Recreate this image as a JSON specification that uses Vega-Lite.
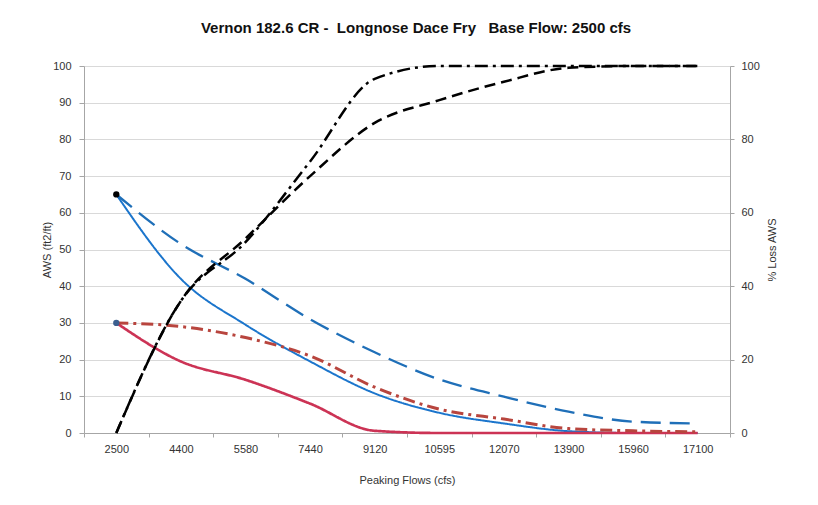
{
  "$schema": "https://vega.github.io/schema/vega-lite/v6.json",
  "width": 646,
  "height": 367,
  "autosize": {"type": "none"},
  "padding": {"left": 84, "top": 66, "right": 88, "bottom": 72},
  "background": "white",
  "title": {
    "text": "Vernon 182.6 CR -\u00a0 Longnose Dace Fry\u00a0\u00a0 Base Flow: 2500 cfs",
    "font": "Liberation Sans",
    "fontSize": 15,
    "fontWeight": "bold",
    "color": "#111111",
    "offset": 24,
    "dx": 9
  },
  "config": {
    "view": {"stroke": null},
    "font": "Liberation Sans",
    "axis": {
      "labelFont": "Liberation Sans",
      "titleFont": "Liberation Sans",
      "labelFontSize": 11,
      "titleFontSize": 11,
      "titleFontWeight": "normal",
      "labelColor": "#333333",
      "titleColor": "#333333",
      "domainColor": "#a6a6a6",
      "tickColor": "#a6a6a6",
      "gridColor": "#d9d9d9"
    }
  },
  "datasets": {
    "aws": [
      {"flow": "2500", "series": "A", "value": 65},
      {"flow": "4400", "series": "A", "value": 42},
      {"flow": "5580", "series": "A", "value": 29.5},
      {"flow": "7440", "series": "A", "value": 19.5},
      {"flow": "9120", "series": "A", "value": 10.8},
      {"flow": "10595", "series": "A", "value": 5.5},
      {"flow": "12070", "series": "A", "value": 2.6},
      {"flow": "13900", "series": "A", "value": 0.5},
      {"flow": "15960", "series": "A", "value": 0},
      {"flow": "17100", "series": "A", "value": 0},
      {"flow": "2500", "series": "B", "value": 65},
      {"flow": "4400", "series": "B", "value": 51.5},
      {"flow": "5580", "series": "B", "value": 42},
      {"flow": "7440", "series": "B", "value": 31},
      {"flow": "9120", "series": "B", "value": 22},
      {"flow": "10595", "series": "B", "value": 14.6},
      {"flow": "12070", "series": "B", "value": 9.9},
      {"flow": "13900", "series": "B", "value": 5.8},
      {"flow": "15960", "series": "B", "value": 3.1},
      {"flow": "17100", "series": "B", "value": 2.6},
      {"flow": "2500", "series": "C", "value": 30},
      {"flow": "4400", "series": "C", "value": 19.5},
      {"flow": "5580", "series": "C", "value": 14.5},
      {"flow": "7440", "series": "C", "value": 8},
      {"flow": "9120", "series": "C", "value": 0.6},
      {"flow": "10595", "series": "C", "value": 0},
      {"flow": "12070", "series": "C", "value": 0},
      {"flow": "13900", "series": "C", "value": 0},
      {"flow": "15960", "series": "C", "value": 0},
      {"flow": "17100", "series": "C", "value": 0},
      {"flow": "2500", "series": "D", "value": 30},
      {"flow": "4400", "series": "D", "value": 29},
      {"flow": "5580", "series": "D", "value": 26},
      {"flow": "7440", "series": "D", "value": 21},
      {"flow": "9120", "series": "D", "value": 12.5},
      {"flow": "10595", "series": "D", "value": 6.5},
      {"flow": "12070", "series": "D", "value": 3.8},
      {"flow": "13900", "series": "D", "value": 1.2},
      {"flow": "15960", "series": "D", "value": 0.6},
      {"flow": "17100", "series": "D", "value": 0.3}
    ],
    "loss": [
      {"flow": "2500", "series": "E", "value": 0},
      {"flow": "4400", "series": "E", "value": 36},
      {"flow": "5580", "series": "E", "value": 52},
      {"flow": "7440", "series": "E", "value": 74},
      {"flow": "9120", "series": "E", "value": 96.5},
      {"flow": "10595", "series": "E", "value": 100},
      {"flow": "12070", "series": "E", "value": 100},
      {"flow": "13900", "series": "E", "value": 100},
      {"flow": "15960", "series": "E", "value": 100},
      {"flow": "17100", "series": "E", "value": 100},
      {"flow": "2500", "series": "F", "value": 0},
      {"flow": "4400", "series": "F", "value": 36},
      {"flow": "5580", "series": "F", "value": 53},
      {"flow": "7440", "series": "F", "value": 70},
      {"flow": "9120", "series": "F", "value": 84.5},
      {"flow": "10595", "series": "F", "value": 90.7},
      {"flow": "12070", "series": "F", "value": 95.7},
      {"flow": "13900", "series": "F", "value": 99.5},
      {"flow": "15960", "series": "F", "value": 100},
      {"flow": "17100", "series": "F", "value": 100}
    ]
  },
  "layer": [
    {
      "data": {"name": "aws"},
      "encoding": {
        "x": {
          "field": "flow", "type": "nominal",
          "scale": {"type": "band", "domain": ["2500","4400","5580","7440","9120","10595","12070","13900","15960","17100"], "paddingInner": 0, "paddingOuter": 0},
          "axis": {"title": "Peaking Flows (cfs)", "labelAngle": 0, "tickBand": "extent", "tickSize": 4, "labelPadding": 6, "titlePadding": 20, "grid": false}
        },
        "y": {
          "field": "value", "type": "quantitative",
          "scale": {"domain": [0, 100], "nice": false},
          "axis": {"title": "AWS (ft2/ft)", "values": [0,10,20,30,40,50,60,70,80,90,100], "labelOverlap": false, "grid": true, "tickSize": 5, "labelPadding": 8, "titlePadding": 0}
        }
      },
      "layer": [
        {
          "mark": {"type": "line", "interpolate": "monotone"},
          "encoding": {
            "color": {"field": "series", "type": "nominal", "legend": null,
              "scale": {"domain": ["A","B","C","D"], "range": ["#1b75cc","#1f6fb8","#cc3355","#b8453e"]}},
            "strokeDash": {"field": "series", "type": "nominal", "legend": null,
              "scale": {"domain": ["A","B","C","D"], "range": [[1,0],[20,9],[1,0],[12,5,3,5]]}},
            "strokeWidth": {"field": "series", "type": "nominal", "legend": null,
              "scale": {"domain": ["A","B","C","D"], "range": [2,3,2,2.5]}}
          }
        },
        {
          "transform": [{"filter": "datum.flow == '2500' && datum.series == 'A'"}],
          "mark": {"type": "point", "filled": true, "color": "#000000", "size": 40, "opacity": 1}
        },
        {
          "transform": [{"filter": "datum.flow == '2500' && datum.series == 'C'"}],
          "mark": {"type": "point", "filled": true, "color": "#3b5f8f", "size": 40, "opacity": 1}
        }
      ]
    },
    {
      "data": {"name": "loss"},
      "mark": {"type": "line", "interpolate": "monotone", "color": "#000000", "strokeWidth": 2.5},
      "encoding": {
        "x": {"field": "flow", "type": "nominal"},
        "y": {
          "field": "value", "type": "quantitative",
          "scale": {"domain": [0, 100], "nice": false},
          "axis": {"orient": "right", "title": "% Loss AWS", "values": [0,20,40,60,80,100], "grid": false, "tickSize": 4, "labelPadding": 7, "titlePadding": 18, "titleAngle": 270}
        },
        "strokeDash": {"field": "series", "type": "nominal", "legend": null,
          "scale": {"domain": ["E","F"], "range": [[13,5,3,5],[11,6]]}}
      }
    }
  ],
  "resolve": {"scale": {"y": "independent", "strokeDash": "independent"}}
}
